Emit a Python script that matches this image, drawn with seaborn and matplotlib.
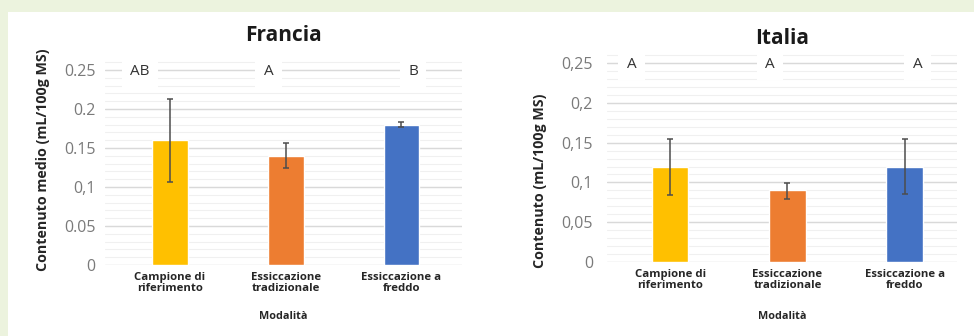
import numpy as np
import pandas as pd
import matplotlib.pyplot as plt
import seaborn as sns

categories = ['Campione di\nriferimento', 'Essiccazione\ntradizionale', 'Essiccazione a\nfreddo']
colors = ['#FFC000', '#ED7D31', '#4472C4']

francia_mean = [0.16, 0.14, 0.18]
francia_low = [0.107, 0.125, 0.177]
francia_high = [0.213, 0.156, 0.184]
francia_letters = ['AB', 'A', 'B']

italia_mean = [0.12, 0.09, 0.12]
italia_low = [0.084, 0.079, 0.086]
italia_high = [0.155, 0.099, 0.155]
italia_letters = ['A', 'A', 'A']

yticks = [0, 0.05, 0.1, 0.15, 0.2, 0.25]
francia_yticklabels = ['0', '0.05', '0,1', '0.15', '0.2', '0.25']
italia_yticklabels = ['0', '0,05', '0,1', '0,15', '0,2', '0,25']

sns.set_theme(style='white')
plt.rcParams['font.family'] = ['Open Sans', 'DejaVu Sans']

fig = plt.figure(figsize=(9.74, 3.36), dpi=100)
fig.patch.set_facecolor('#ECF3DE')
# white panel behind everything
fig.patches.append(plt.Rectangle((8 / 974, 0), 1, 1 - 12 / 336, transform=fig.transFigure,
                                 facecolor='white', edgecolor='none', zorder=-10))


def draw(ax, mean, low, high, letters, letter_x, yticklabels, title, ylabel, xlim,
         title_pad, ylabel_xy, tick_pad, xlabel_y):
    df = pd.DataFrame({'cat': categories, 'val': mean})
    sns.barplot(data=df, x='cat', y='val', hue='cat', palette=colors, legend=False,
                width=0.31, saturation=1, ax=ax, zorder=3)
    x = np.arange(len(mean))
    yerr = [np.array(mean) - np.array(low), np.array(high) - np.array(mean)]
    ax.errorbar(x, mean, yerr=yerr, fmt='none', ecolor='#4d4d4d', elinewidth=1.1,
                capsize=2.5, capthick=1.1, zorder=4)
    for yy in np.arange(0.01, 0.27, 0.01):
        ax.axhline(yy, color='#f0f0f0', lw=0.8, zorder=1)
    for yy in yticks:
        ax.axhline(yy, color='#d9d9d9', lw=1.0, zorder=2)
    ax.set_ylim(0, 0.27)
    ax.set_xlim(*xlim)
    ax.set_yticks(yticks)
    ax.set_yticklabels(yticklabels, color='#7a7a7a', fontsize=11.5)
    ax.tick_params(axis='y', length=0, pad=tick_pad)
    ax.tick_params(axis='x', length=0, pad=5)
    for lab in ax.get_xticklabels():
        lab.set_fontsize(8.2)
        lab.set_fontweight('bold')
        lab.set_color('#262626')
        lab.set_linespacing(1.05)
    ax.set_xlabel('Modalità', fontsize=7.8, fontweight='bold', color='#262626')
    ax.xaxis.set_label_coords(0.5, xlabel_y)
    ax.set_ylabel(ylabel, fontsize=10.3, fontweight='bold', color='#262626')
    ax.yaxis.set_label_coords(*ylabel_xy)
    ax.set_title(title, fontsize=15, fontweight='bold', color='#1a1a1a', pad=title_pad)
    for xi, txt in zip(letter_x, letters):
        ax.text(xi, 0.248, txt, ha='center', va='center', fontsize=11, color='#333333',
                bbox=dict(facecolor='white', edgecolor='none', pad=6), zorder=5)
    sns.despine(ax=ax, left=True, bottom=True)
    ax.set_facecolor('none')


ax1 = fig.add_axes([0.108, 0.211, 0.366, 0.627])
draw(ax1, francia_mean, francia_low, francia_high, francia_letters, [-0.26, 0.85, 2.1],
     francia_yticklabels, 'Francia', 'Contenuto medio (mL/100g MS)', (-0.56, 2.52),
     10, (-0.155, 0.5), 7, -0.218)

ax2 = fig.add_axes([0.623, 0.220, 0.360, 0.640])
draw(ax2, italia_mean, italia_low, italia_high, italia_letters, [-0.33, 0.85, 2.11],
     italia_yticklabels, 'Italia', 'Contenuto (mL/100g MS)', (-0.54, 2.45),
     2, (-0.17, 0.377), 10, -0.228)

fig.savefig('out.png', dpi=100, facecolor=fig.get_facecolor())
